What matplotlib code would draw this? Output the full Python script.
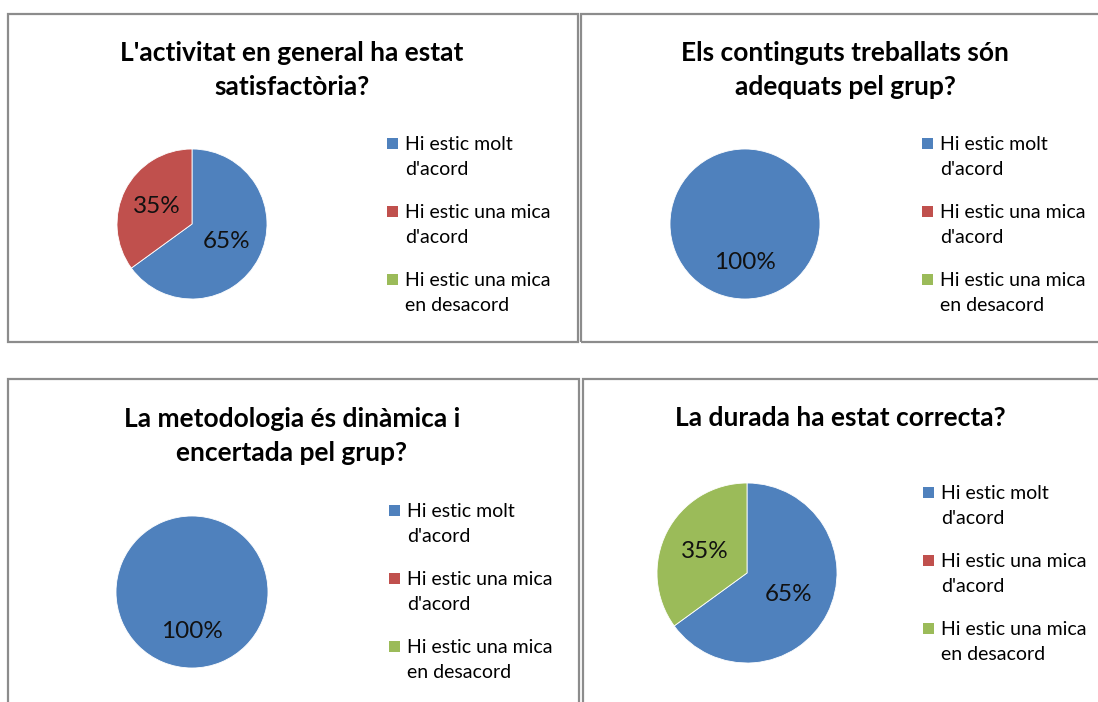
import matplotlib
matplotlib.use("Agg")
import matplotlib.pyplot as plt
from matplotlib.patches import Rectangle

W, H = 1098, 702

# survey answers (same three options in every chart)
categories = ["Hi estic molt\nd'acord", "Hi estic una mica\nd'acord", "Hi estic una mica\nen desacord"]
colors = ["#4F81BD", "#C0504D", "#9BBB59"]

titles = [
    "L'activitat en general ha estat\nsatisfactòria?",
    "Els continguts treballats són\nadequats pel grup?",
    "La metodologia és dinàmica i\nencertada pel grup?",
    "La durada ha estat correcta?",
]
vals_activitat = [65, 35, 0]
vals_continguts = [100, 0, 0]
vals_metodologia = [100, 0, 0]
vals_durada = [65, 0, 35]
all_vals = [vals_activitat, vals_continguts, vals_metodologia, vals_durada]

# layout in pixels (image coords, y from top)
frames = [(8, 14, 578, 342), (581, 14, 1110, 342), (8, 379, 579, 720), (583, 379, 1110, 720)]
pies = [(192, 224, 75), (745, 224, 75), (192, 592, 76), (747, 573, 90)]
title_pos = [(292, 70), (845, 70), (292, 436), (840, 418)]
legend_pos = [(387, 143), (922, 143), (389, 510), (923, 492)]  # square left, first line centre
entry_step = 68

plt.rcParams["font.family"] = ["Lato", "DejaVu Sans"]
fig = plt.figure(figsize=(W / 100, H / 100), dpi=100)


def fx(x):
    return x / W


def fy(y):
    return 1 - y / H


for (x0, y0, x1, y1) in frames:
    fig.patches.append(Rectangle((fx(x0), fy(y1)), fx(x1 - x0), (y1 - y0) / H,
                                 transform=fig.transFigure, fill=False,
                                 edgecolor="#8c8c8c", lw=1.6))

for i in range(4):
    cx, cy, r = pies[i]
    ax = fig.add_axes([fx(cx - r), fy(cy + r), 2 * r / W, 2 * r / H])
    vals = [v for v in all_vals[i] if v > 0]
    cols = [c for v, c in zip(all_vals[i], colors) if v > 0]
    wedges, _, autotexts = ax.pie(vals, colors=cols, startangle=90, counterclock=False,
                                  autopct=lambda p: f"{p:.0f}%", pctdistance=0.52,
                                  wedgeprops=dict(edgecolor="white", linewidth=0.6))
    for t in autotexts:
        t.set_fontsize(17.5)
        t.set_color("#111111")
    ax.set_xlim(-1, 1)
    ax.set_ylim(-1, 1)

    tx, ty = title_pos[i]
    fig.text(fx(tx), fy(ty), titles[i], ha="center", va="center", fontsize=19,
             fontweight="bold", linespacing=1.5)

    # legend: square beside the first line of each two-line label
    lx, ly = legend_pos[i]
    for k, (lab, c) in enumerate(zip(categories, colors)):
        yk = ly + k * entry_step
        fig.patches.append(Rectangle((fx(lx), fy(yk + 5.5)), fx(11), 11 / H,
                                     transform=fig.transFigure, facecolor=c, edgecolor="none"))
        fig.text(fx(lx + 18), fy(yk - 7), lab, ha="left", va="top", fontsize=14,
                 linespacing=1.55)

fig.savefig("out.png", dpi=100)
